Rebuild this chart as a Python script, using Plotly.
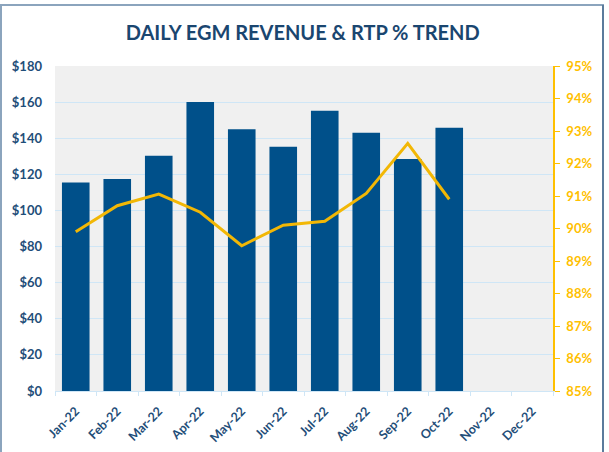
import plotly.graph_objects as go

months = ["Jan-22", "Feb-22", "Mar-22", "Apr-22", "May-22", "Jun-22",
          "Jul-22", "Aug-22", "Sep-22", "Oct-22", "Nov-22", "Dec-22"]
revenue = [115.5, 117.4, 130.3, 160.0, 145.0, 135.3, 155.2, 143.0, 128.5, 145.8, None, None]
rtp_pct = [89.9, 90.7, 91.06, 90.5, 89.47, 90.1, 90.22, 91.08, 92.62, 90.9, None, None]

left_ticks = list(range(0, 181, 20))
left_labels = ["$" + str(v) for v in left_ticks]
right_ticks = [x / 100 for x in range(85, 96)]
right_labels = [str(x) + "%" for x in range(85, 96)]

DARK = "#1f4e79"
GOLD = "#FFC000"
BAR = "#00508a"
GRID = "#cfe6f6"

W, H = 609, 452
L, R, T, B = 55, 56, 66, 61
pw, ph = W - L - R, H - T - B

def px_to_paper_x(px):
    return (px - L) / pw

def px_to_paper_y(py):
    return (H - B - py) / ph

fig = go.Figure()
fig.add_trace(go.Bar(x=months, y=revenue, marker=dict(color=BAR, line=dict(width=0)),
                     name="Revenue", yaxis="y"))
fig.add_trace(go.Scatter(x=months, y=[v / 100 if v is not None else None for v in rtp_pct],
                         mode="lines", line=dict(color="#f2b705", width=3),
                         name="RTP %", yaxis="y2", connectgaps=False))

fig.update_layout(
    width=W, height=H,
    margin=dict(l=L, r=R, t=T, b=B, autoexpand=False),
    paper_bgcolor="white",
    plot_bgcolor="#f0f0f0",
    showlegend=False,
    bargap=0.335,
    font=dict(family="Lato", color=DARK),
    title=dict(text="<b>DAILY EGM REVENUE &amp; RTP % TREND</b>", x=0.497, xanchor="center",
               y=1 - 33 / H, yanchor="middle",
               font=dict(family="Lato", size=20, color="#1a4670")),
    xaxis=dict(type="category", categoryorder="array", categoryarray=months,
               tickangle=-45, tickson="boundaries", ticks="outside", ticklen=4,
               tickcolor=GRID, showline=True, linecolor=GRID, linewidth=1,
               showgrid=False, automargin=False, ticklabelstandoff=7,
               tickfont=dict(family="Lato", size=12.5, color=DARK, weight="bold")),
    yaxis=dict(range=[0, 180], tickvals=left_ticks, ticktext=left_labels,
               showgrid=True, gridcolor=GRID, gridwidth=1, zeroline=False,
               showline=False, ticks="", ticklabelstandoff=12, automargin=False,
               tickfont=dict(family="Lato", size=13, color=DARK, weight="bold")),
    yaxis2=dict(range=[0.85, 0.95], tickvals=right_ticks, ticktext=right_labels,
                overlaying="y", side="right", showgrid=False, zeroline=False,
                showline=True, linecolor=GOLD, linewidth=1.5, automargin=False,
                ticks="outside", ticklen=5, tickcolor=GOLD, ticklabelstandoff=4,
                tickfont=dict(family="Lato", size=13, color=GOLD, weight="bold")),
    shapes=[
        dict(type="rect", xref="paper", yref="paper",
             x0=px_to_paper_x(1), x1=px_to_paper_x(603),
             y0=px_to_paper_y(470), y1=px_to_paper_y(5),
             line=dict(color="#8ba4bd", width=2), fillcolor="rgba(0,0,0,0)", layer="below"),
        dict(type="line", xref="paper", yref="paper",
             x0=px_to_paper_x(603), x1=px_to_paper_x(603),
             y0=px_to_paper_y(470), y1=px_to_paper_y(5),
             line=dict(color="#5b7b9c", width=2)),
    ],
)

fig.write_html("out.html", config={"displayModeBar": False},
               post_script="document.body.style.margin='0';document.body.style.overflow='hidden';")
